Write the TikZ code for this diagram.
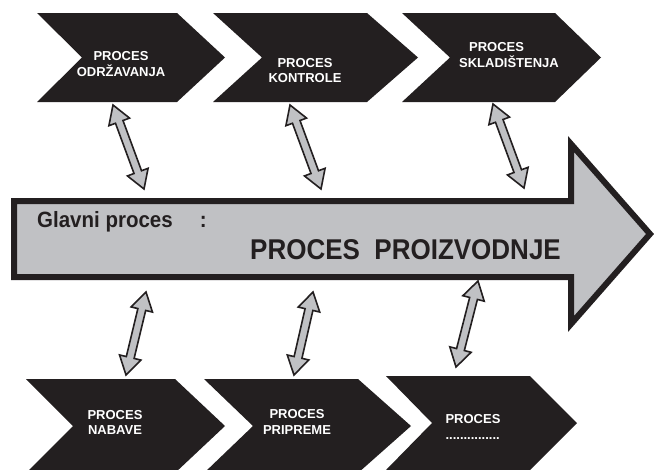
\documentclass[tikz,border=0pt]{standalone}
\usepackage{fontspec}
\setmainfont{Liberation Sans}
\usetikzlibrary{calc}

\definecolor{ink}{HTML}{231F20}
\definecolor{shaftgrey}{HTML}{C0C1C4}

\tikzset{
  chevron/.style={fill=ink},
  chevtext/.style={text=white, inner sep=0pt, align=center,
    font=\bfseries\fontsize{13}{15.5}\selectfont},
  mainarrow/.style={fill=shaftgrey, draw=ink, line width=6pt, line join=miter},
  linkarrow/.style={fill=shaftgrey, draw=ink, line width=1.6pt, line join=miter},
  maintext/.style={text=ink, inner sep=0pt, anchor=base west}
}

% double-headed outlined arrow between two named coordinates
\newcommand\twowayarrow[2]{%
  \filldraw[linkarrow] (#1)
   -- ($(#1)!18pt!(#2)!11pt!90:(#2)$)
   -- ($(#1)!18pt!(#2)!4pt!90:(#2)$)
   -- ($(#2)!18pt!(#1)!4pt!-90:(#1)$)
   -- ($(#2)!18pt!(#1)!11pt!-90:(#1)$)
   -- (#2)
   -- ($(#2)!18pt!(#1)!11pt!90:(#1)$)
   -- ($(#2)!18pt!(#1)!4pt!90:(#1)$)
   -- ($(#1)!18pt!(#2)!4pt!-90:(#2)$)
   -- ($(#1)!18pt!(#2)!11pt!-90:(#2)$)
   -- cycle;}

\begin{document}
\begin{tikzpicture}[x=1pt, y=-1pt]
  \useasboundingbox (0,0) rectangle (656,469);
  \fill[white] (0,0) rectangle (656,469);

  % upper row of chevrons
  \fill[chevron] (37,13) -- (177,13) -- (225,57.5) -- (177,102) -- (37,102) -- (82,57.5) -- cycle;
  \fill[chevron] (213,13) -- (367,13) -- (418,57.5) -- (367,102) -- (213,102) -- (262,57.5) -- cycle;
  \fill[chevron] (402,13) -- (555,13) -- (601,57.5) -- (555,102) -- (402,102) -- (450,57.5) -- cycle;

  % lower row of chevrons
  \fill[chevron] (26,379) -- (175,379) -- (225,426) -- (175,473) -- (26,473) -- (73,426) -- cycle;
  \fill[chevron] (204,379) -- (358,379) -- (411,426) -- (358,473) -- (204,473) -- (253,426) -- cycle;
  \fill[chevron] (386,376) -- (530,376) -- (577,423) -- (530,470) -- (386,470) -- (432,423) -- cycle;

  % chevron labels
  \node[chevtext] (odr) at (121,64) {PROCES\\ODRŽAVANJA};
  \node[chevtext] (kon) at (305,70.5) {PROCES\\KONTROLE};
  \node[chevtext, align=left] (skl) at (509,55) {\hspace*{10pt}PROCES\\SKLADIŠTENJA};
  \node[chevtext] (nab) at (115,422.5) {PROCES\\NABAVE};
  \node[chevtext] (pri) at (297,422) {PROCES\\PRIPREME};
  \node[chevtext, align=left] (etc) at (473,427) {PROCES\\...............};

  % main process arrow
  \filldraw[mainarrow] (14,201) -- (571,201) -- (571,144) -- (650,234)
    -- (571,324) -- (571,277) -- (14,277) -- cycle;
  \node[maintext, font=\bfseries\fontsize{20.5}{24}\selectfont] (glavni) at (37,227)
    {\scalebox{1}[1.08]{Glavni proces\hspace{27pt}:}};
  \node[maintext, font=\bfseries\fontsize{26}{30}\selectfont] (proizvodnja) at (250,259)
    {\scalebox{1}[1.1]{PROCES\ \ PROIZVODNJE}};

  % end points of the links
  \coordinate (odr-a) at (113,105);  \coordinate (odr-b) at (144,189);
  \coordinate (kon-a) at (290,105);  \coordinate (kon-b) at (321,189);
  \coordinate (skl-a) at (493,104);  \coordinate (skl-b) at (524,188);
  \coordinate (nab-a) at (146,292);  \coordinate (nab-b) at (126,375);
  \coordinate (pri-a) at (313,292);  \coordinate (pri-b) at (294,375);
  \coordinate (etc-a) at (478,281);  \coordinate (etc-b) at (456,367);

  \twowayarrow{odr-a}{odr-b}
  \twowayarrow{kon-a}{kon-b}
  \twowayarrow{skl-a}{skl-b}
  \twowayarrow{nab-a}{nab-b}
  \twowayarrow{pri-a}{pri-b}
  \twowayarrow{etc-a}{etc-b}
\end{tikzpicture}
\end{document}
